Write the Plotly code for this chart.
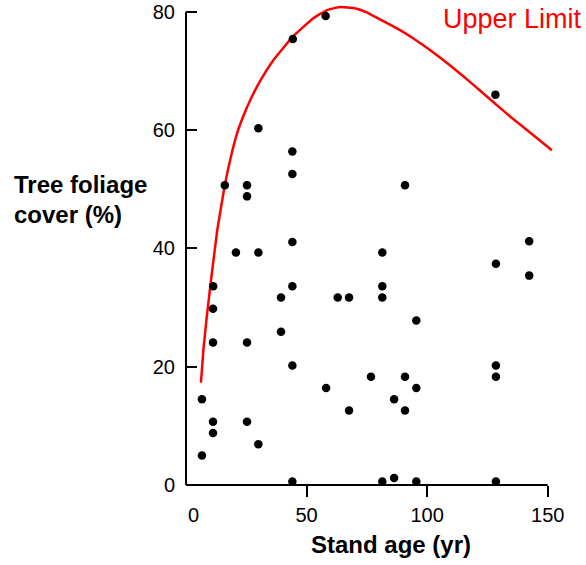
import plotly.graph_objects as go

# ---- data ----
stand_age = [57.9, 44.3, 128.3, 30.0, 44.1, 44.1, 16.1, 25.3, 90.8, 25.3,
             44.1, 142.3, 20.7, 30.0, 81.4, 128.5, 142.3, 11.3, 44.1, 81.4,
             39.4, 62.9, 67.6, 81.4, 11.2, 95.5, 39.4, 11.2, 25.3, 44.1,
             128.5, 76.7, 90.8, 128.5, 58.1, 95.5, 6.6, 86.3, 67.6, 90.8,
             11.2, 25.3, 11.2, 30.0, 6.6, 44.1, 81.4, 86.3, 95.5, 128.5]
foliage_cover = [79.3, 75.4, 66.0, 60.3, 56.4, 52.6, 50.7, 50.7, 50.7, 48.8,
                 41.1, 41.2, 39.3, 39.3, 39.3, 37.4, 35.4, 33.6, 33.6, 33.6,
                 31.7, 31.7, 31.7, 31.7, 29.8, 27.8, 25.9, 24.1, 24.1, 20.2,
                 20.2, 18.3, 18.3, 18.3, 16.4, 16.4, 14.5, 14.5, 12.6, 12.6,
                 10.7, 10.7, 8.8, 6.9, 5.0, 0.6, 0.6, 1.2, 0.6, 0.6]

limit_age = [6.2, 7.2, 8.6, 10.4, 13.0, 16.1, 18.5, 21.3, 24.0, 27.0, 31.0,
             36.0, 44.3, 52.8, 58.5, 63.9, 70.0, 74.9, 80.5, 87.5, 94.3,
             101.0, 108.1, 115.0, 121.9, 128.1, 135.0, 142.0, 151.7]
limit_cover = [17.3, 22.8, 28.4, 34.7, 43.2, 50.7, 55.3, 59.6, 62.6, 65.4, 68.5,
               71.7, 75.8, 78.9, 80.3, 80.8, 80.6, 79.9, 78.7, 77.2, 75.5,
               73.6, 71.4, 69.1, 66.7, 64.5, 62.1, 59.8, 56.6]

x_ticks = [50, 100, 150]
x_tick_text = ["50", "100", "150"]
y_ticks = [0, 20, 40, 60, 80]
y_tick_text = ["0", "20", "40", "60", "80"]
x_axis_end = 150
y_axis_end = 80

# ---- layout constants ----
W, H = 586, 565
ML, MR, MT, MB = 186, 31, 0, 80
X_RANGE = [0, 153]
Y_RANGE = [0, 82]
FONT = "Liberation Sans, Arial, Helvetica, sans-serif"

plot_w = W - ML - MR
plot_h = H - MT - MB


def px_x(px):
    return (px - ML) / plot_w


def px_y(py):
    return (H - MB - py) / plot_h


fig = go.Figure()
fig.add_trace(go.Scatter(
    x=limit_age, y=limit_cover, mode="lines",
    line=dict(color="#ff0000", width=2.5, shape="spline", smoothing=0.4),
    hoverinfo="skip", showlegend=False))
fig.add_trace(go.Scatter(
    x=stand_age, y=foliage_cover, mode="markers",
    marker=dict(color="black", size=8.5),
    cliponaxis=False, showlegend=False))

# axis lines (R style: span first to last tick)
fig.add_shape(type="line", xref="paper", yref="paper",
              x0=0, x1=(x_axis_end - X_RANGE[0]) / (X_RANGE[1] - X_RANGE[0]),
              y0=0, y1=0, line=dict(color="black", width=2))
fig.add_shape(type="line", xref="paper", yref="paper",
              x0=0, x1=0,
              y0=0, y1=(y_axis_end - Y_RANGE[0]) / (Y_RANGE[1] - Y_RANGE[0]),
              line=dict(color="black", width=2))

fig.update_layout(
    width=W, height=H,
    margin=dict(l=ML, r=MR, t=MT, b=MB, pad=0),
    paper_bgcolor="white", plot_bgcolor="white",
    font=dict(family=FONT, color="black", size=20),
    xaxis=dict(range=X_RANGE, showgrid=False, zeroline=False, showline=False,
               ticks="outside", ticklen=11, tickwidth=2, tickcolor="black",
               tickvals=x_ticks, ticktext=x_tick_text,
               tickfont=dict(size=20), ticklabelstandoff=1),
    yaxis=dict(range=Y_RANGE, showgrid=False, zeroline=False, showline=False,
               ticks="inside", ticklen=11, tickwidth=2, tickcolor="black",
               tickvals=y_ticks, ticktext=y_tick_text,
               tickfont=dict(size=20), ticklabelstandoff=10),
)

annotations = [
    dict(text="0", x=0, xref="x", y=px_y(515), yref="paper",
         xshift=7, showarrow=False, font=dict(size=20),
         xanchor="center", yanchor="middle"),
    dict(text="Stand age (yr)", x=px_x(390.5), y=px_y(544), xref="paper", yref="paper",
         showarrow=False, font=dict(size=24, weight="bold"),
         xanchor="center", yanchor="middle"),
    dict(text="Tree foliage", x=px_x(12), y=px_y(184), xref="paper", yref="paper",
         showarrow=False, font=dict(size=24, weight="bold"),
         xanchor="left", yanchor="middle"),
    dict(text="cover (%)", x=px_x(12), y=px_y(214), xref="paper", yref="paper",
         showarrow=False, font=dict(size=24, weight="bold"),
         xanchor="left", yanchor="middle"),
    dict(text="Upper Limit", x=px_x(512.5), y=px_y(19.5), xref="paper", yref="paper",
         showarrow=False, font=dict(size=27, color="#ff0000"),
         xanchor="center", yanchor="middle"),
]
fig.update_layout(annotations=annotations)

fig.write_html("out.html")
